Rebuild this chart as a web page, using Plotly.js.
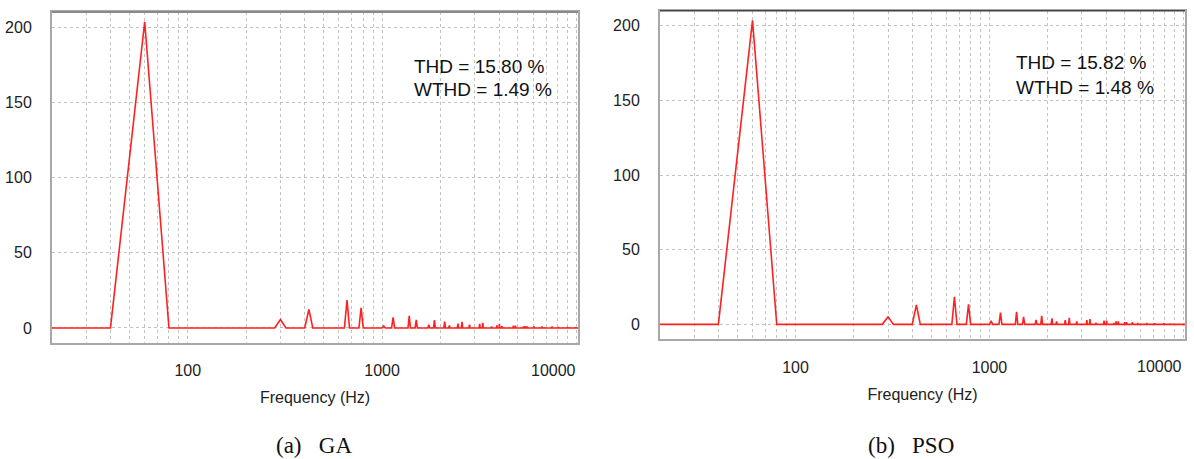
<!DOCTYPE html>
<html><head><meta charset="utf-8">
<script src="https://cdn.plot.ly/plotly-3.0.1.min.js"></script>
<style>html,body{margin:0;padding:0;background:#fff;} #chart{width:1194px;height:459px;}</style>
</head><body><div id="chart"></div>
<script>
// ---- data ----
const binHz = 20;            // FFT bin spacing (Hz)
const fStart = 20, fEnd = 10200;

const gaFreq = [60, 300, 420, 660, 780, 1020, 1140, 1380, 1500, 1740, 1860, 2100, 2220, 2460, 2580, 2820, 3180, 3300, 3660, 3900, 4020, 4140, 4740, 4860, 5340, 5460, 5580, 6060, 6660, 7500, 8100, 9000, 9900];
const gaMag  = [203.5, 5.6, 12.3, 18.5, 13.3, 1.3, 7.0, 8.0, 5.3, 2.2, 5.3, 4.2, 1.7, 2.8, 4.0, 2.2, 2.7, 3.4, 1.0, 1.7, 2.7, 1.2, 1.5, 1.5, 1.0, 1.2, 1.0, 1.0, 1.0, 1.0, 0.7, 0.7, 0.5];

const psoFreq = [60, 300, 420, 660, 780, 1020, 1140, 1380, 1500, 1740, 1860, 2100, 2220, 2460, 2580, 2820, 3180, 3300, 3540, 3900, 4020, 4380, 4500, 4620, 4980, 5100, 5460, 5820, 6480, 7140, 7920, 8580];
const psoMag  = [203.5, 5.0, 13.0, 18.5, 13.4, 2.3, 7.8, 8.4, 5.1, 3.0, 5.7, 4.0, 2.0, 2.9, 4.4, 2.0, 2.8, 3.5, 1.0, 2.6, 2.6, 1.0, 2.0, 2.0, 1.5, 1.5, 1.5, 1.0, 1.0, 0.8, 0.8, 0.7];

const gridFreq = [30, 40, 50, 60, 70, 80, 90, 100, 200, 300, 400, 500, 600, 700, 800, 900, 1000, 2000, 3000, 4000, 5000, 6000, 7000, 8000, 9000, 10000];
const xLabelVals = [100, 1000];
const lastXLabel = 10000;
const yTicks = [0, 50, 100, 150, 200];
const gaText = ['THD = 15.80 %', 'WTHD = 1.49 %'];
const psoText = ['THD = 15.82 %', 'WTHD = 1.48 %'];
const captions = ['(a)\u00a0\u00a0\u00a0GA', '(b)\u00a0\u00a0\u00a0PSO'];
const xTitle = 'Frequency (Hz)';

// ---- build ----
function spectrum(freq, mag) {
  const x = [fStart], y = [0];
  freq.forEach((f, i) => { x.push(f - binHz, f, f + binHz); y.push(0, mag[i], 0); });
  x.push(fEnd); y.push(0);
  return { x, y };
}
const ga = spectrum(gaFreq, gaMag);
const pso = spectrum(psoFreq, psoMag);

const W = 1194, H = 459;
const narrow = '"Liberation Sans Narrow","Arial Narrow","Liberation Sans",Arial,sans-serif';
const tickFont = { family: narrow, size: 16, color: '#222' };
const lineStyle = { color: '#ff2020', width: 1.6 };

const P1 = { l: 52, r: 578, t: 12, b: 343 };
const P2 = { l: 660, r: 1185, t: 10.7, b: 339.3 };
const dom = p => ({ x: [p.l / W, p.r / W], y: [1 - p.b / H, 1 - p.t / H] });
const d1 = dom(P1), d2 = dom(P2);

function xax(d, anchor) {
  return {
    type: 'log', domain: d.x, anchor,
    range: [Math.log10(fStart), Math.log10(fEnd)],
    tickmode: 'array', tickvals: gridFreq,
    ticktext: gridFreq.map(f => xLabelVals.includes(f) ? String(f) : ''),
    showgrid: true, gridcolor: '#c2c2c2', griddash: 'dot', gridwidth: 1,
    showline: true, linecolor: '#a8a8a8', linewidth: 2, mirror: true,
    ticks: '', tickfont: tickFont, ticklabelstandoff: 12,
    title: { text: xTitle, font: { family: narrow, size: 16, color: '#222' }, standoff: 14 },
    zeroline: false, fixedrange: true, automargin: false
  };
}
function yax(d, anchor) {
  return {
    domain: d.y, anchor, range: [-10, 210],
    tickmode: 'array', tickvals: yTicks,
    showgrid: true, gridcolor: '#c2c2c2', griddash: 'dot', gridwidth: 1,
    showline: true, linecolor: '#a8a8a8', linewidth: 2, mirror: true,
    ticks: '', tickfont: tickFont, ticklabelstandoff: 15,
    zeroline: false, fixedrange: true, automargin: false
  };
}

const data = [
  { x: ga.x, y: ga.y, xaxis: 'x', yaxis: 'y', type: 'scatter', mode: 'lines', line: lineStyle, hoverinfo: 'skip' },
  { x: pso.x, y: pso.y, xaxis: 'x2', yaxis: 'y2', type: 'scatter', mode: 'lines', line: lineStyle, hoverinfo: 'skip' }
];

const txtFont = { family: '"Liberation Sans",Arial,sans-serif', size: 19, color: '#111' };
const capFont = { family: '"Liberation Serif","Times New Roman",serif', size: 23, color: '#111' };

const annotations = [
  // statistics text
  { xref: 'x domain', yref: 'y domain', x: (412 - P1.l) / (P1.r - P1.l), y: (P1.b - 66) / (P1.b - P1.t), xanchor: 'left', yanchor: 'middle', text: gaText[0], showarrow: false, font: txtFont },
  { xref: 'x domain', yref: 'y domain', x: (412 - P1.l) / (P1.r - P1.l), y: (P1.b - 89) / (P1.b - P1.t), xanchor: 'left', yanchor: 'middle', text: gaText[1], showarrow: false, font: txtFont },
  { xref: 'x2 domain', yref: 'y2 domain', x: (1014 - P2.l) / (P2.r - P2.l), y: (P2.b - 62) / (P2.b - P2.t), xanchor: 'left', yanchor: 'middle', text: psoText[0], showarrow: false, font: txtFont },
  { xref: 'x2 domain', yref: 'y2 domain', x: (1014 - P2.l) / (P2.r - P2.l), y: (P2.b - 87) / (P2.b - P2.t), xanchor: 'left', yanchor: 'middle', text: psoText[1], showarrow: false, font: txtFont },
  // last decade label, kept inside the panel like the reference
  { xref: 'x', yref: 'y domain', x: Math.log10(lastXLabel), y: -27 / (P1.b - P1.t), xanchor: 'right', yanchor: 'middle', xshift: 2, text: String(lastXLabel), showarrow: false, font: tickFont },
  { xref: 'x2', yref: 'y2 domain', x: Math.log10(lastXLabel), y: -27 / (P2.b - P2.t), xanchor: 'right', yanchor: 'middle', xshift: 1, text: String(lastXLabel), showarrow: false, font: tickFont },
  // captions
  { xref: 'paper', yref: 'paper', x: 314 / W, y: 1 - 445 / H, xanchor: 'center', yanchor: 'middle', text: captions[0], showarrow: false, font: capFont },
  { xref: 'paper', yref: 'paper', x: 911 / W, y: 1 - 445 / H, xanchor: 'center', yanchor: 'middle', text: captions[1], showarrow: false, font: capFont }
];

const shapes = [
  { type: 'line', xref: 'x domain', yref: 'y domain', x0: 0, x1: 1, y0: 1, y1: 1, line: { color: '#8a8a8a', width: 2 } },
  { type: 'line', xref: 'x2 domain', yref: 'y2 domain', x0: 0, x1: 1, y0: 1, y1: 1, line: { color: '#444444', width: 1.5 } }
];

const layout = {
  width: W, height: H,
  margin: { l: 0, r: 0, t: 0, b: 0 },
  paper_bgcolor: '#ffffff', plot_bgcolor: '#ffffff',
  showlegend: false,
  xaxis: xax(d1, 'y'), yaxis: yax(d1, 'x'),
  xaxis2: xax(d2, 'y2'), yaxis2: yax(d2, 'x2'),
  annotations, shapes
};

Plotly.newPlot('chart', data, layout, { staticPlot: true, displayModeBar: false });
</script>
</body></html>
